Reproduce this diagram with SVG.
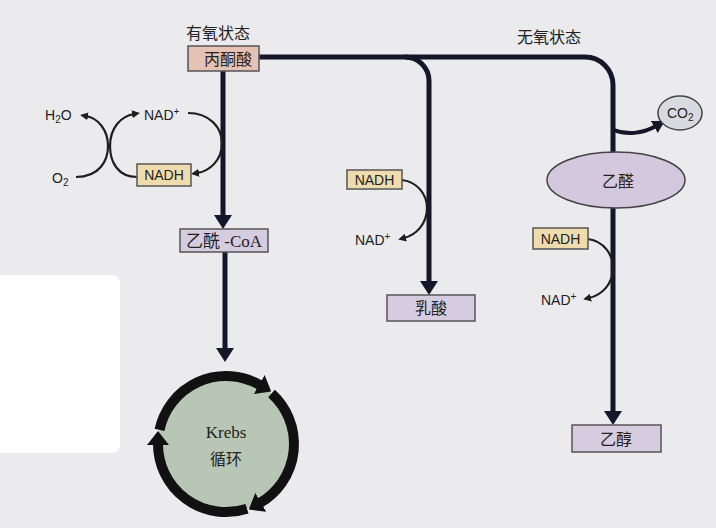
<svg xmlns="http://www.w3.org/2000/svg" width="716" height="528" viewBox="0 0 716 528">
<style>
.bg{fill:#ebebed}
.main{fill:none;stroke:#16162a;stroke-width:5}
.thin{fill:none;stroke:#1e1e1e;stroke-width:2.2}
.ring{fill:none;stroke:#111;stroke-width:10}
.box{stroke:#555;stroke-width:1.5}
.pyr{fill:#e6c2b4}
.lav{fill:#d6cce0}
.nadh{fill:#eedcae}
.cn{font-family:"Noto Sans CJK SC",sans-serif;font-size:16px;fill:#222;text-anchor:middle}
.sn{font-family:"Liberation Serif","Noto Sans CJK SC",serif;font-size:17px;fill:#222;text-anchor:middle}
.lb{font-family:"Liberation Sans",Arial,sans-serif;font-size:14px;fill:#222}
.mid{text-anchor:middle}
</style>
<defs>
<marker id="big" viewBox="0 0 14 18" markerWidth="14" markerHeight="18" markerUnits="userSpaceOnUse" refX="3" refY="9" orient="auto"><path d="M0,0 L14,9 L0,18 z" fill="#16162a"/></marker>
<marker id="med" viewBox="0 0 12 14" markerWidth="12" markerHeight="14" markerUnits="userSpaceOnUse" refX="2" refY="7" orient="auto"><path d="M0,0 L12,7 L0,14 z" fill="#16162a"/></marker>
<marker id="sm" viewBox="0 0 8 8" markerWidth="8" markerHeight="8" markerUnits="userSpaceOnUse" refX="2" refY="4" orient="auto"><path d="M0,0 L8,4 L0,8 z" fill="#1e1e1e"/></marker>
<marker id="ringhead" viewBox="0 0 14 22" markerWidth="14" markerHeight="22" markerUnits="userSpaceOnUse" refX="1" refY="11" orient="auto"><path d="M0,0 L14,11 L0,22 z" fill="#111"/></marker>
</defs>
<rect class="bg" x="0" y="0" width="716" height="528"/>
<rect x="-8" y="275" width="128" height="178" rx="8" fill="#ffffff"/>

<text class="cn" x="218" y="39">有氧状态</text>
<text class="cn" x="549" y="43">无氧状态</text>

<g id="connectors">
<path class="main" d="M223 71 V218" marker-end="url(#big)"/>
<path class="main" d="M225 252 V351" marker-end="url(#big)"/>
<path class="main" d="M259 57 H585 A28 28 0 0 1 613 85 V414" marker-end="url(#big)"/>
<path class="main" d="M405 57 A24 24 0 0 1 429 81 V284" marker-end="url(#big)"/>
<path fill="none" stroke="#16162a" stroke-width="4" d="M614 130 C626 135 642 134 656 126" marker-end="url(#med)"/>
<path class="thin" d="M76 177 C100 177 108 160 108 146 C108 130 98 118 86 116" marker-end="url(#sm)"/>
<path class="thin" d="M137 177 C118 177 110 162 110 146 C110 128 121 116 134 114" marker-end="url(#sm)"/>
<path class="thin" d="M188 113 C210 113 222 128 222 143 C222 160 210 171 197 173" marker-end="url(#sm)"/>
<path class="thin" d="M402 180 C418 182 427 195 427 208 C427 224 416 235 404 238" marker-end="url(#sm)"/>
<path class="thin" d="M588 239 C604 241 613 255 613 268 C613 284 602 295 589 298" marker-end="url(#sm)"/>
</g>

<g id="h2o"><text class="lb" x="45" y="120">H<tspan font-size="10" dy="3">2</tspan><tspan dy="-3">O</tspan></text></g>
<g id="o2"><text class="lb" x="52" y="183">O<tspan font-size="10" dy="3">2</tspan></text></g>
<g id="nadp1"><text class="lb" x="144" y="120">NAD<tspan font-size="10" dy="-5">+</tspan></text></g>
<g id="nadp2"><text class="lb" x="355" y="245">NAD<tspan font-size="10" dy="-5">+</tspan></text></g>
<g id="nadp3"><text class="lb" x="541" y="305">NAD<tspan font-size="10" dy="-5">+</tspan></text></g>

<g id="pyruvate"><rect class="box pyr" x="188" y="46" width="71" height="25"/><text class="cn" x="228" y="65" font-size="17">丙酮酸</text></g>
<g id="acetylcoa"><rect class="box lav" x="180" y="229" width="88" height="23"/><text class="sn" x="224" y="247">乙酰 -CoA</text></g>
<g id="nadh1"><rect class="box nadh" x="137" y="164" width="54" height="22"/><text class="lb mid" x="164" y="180">NADH</text></g>
<g id="nadh2"><rect class="box nadh" x="347" y="170" width="55" height="19"/><text class="lb mid" x="374.5" y="185">NADH</text></g>
<g id="nadh3"><rect class="box nadh" x="533" y="228" width="55" height="21"/><text class="lb mid" x="560.5" y="244">NADH</text></g>
<g id="lactate"><rect class="box lav" x="387" y="295" width="88" height="26"/><text class="cn" x="431" y="314" font-size="17">乳酸</text></g>
<g id="ethanol"><rect class="box lav" x="572" y="425" width="89" height="27"/><text class="cn" x="616" y="445" font-size="17">乙醇</text></g>
<g id="acetaldehyde"><ellipse cx="616" cy="180" rx="69" ry="28" fill="#d4c8de" stroke="#444" stroke-width="1.5"/><text class="cn" x="618" y="187" font-size="17">乙醛</text></g>
<g id="co2"><ellipse cx="680" cy="113" rx="22" ry="17" fill="#d8dadf" stroke="#444" stroke-width="1.5"/><text class="lb" x="667" y="118">CO<tspan font-size="10" dy="3">2</tspan></text></g>

<g id="krebs">
<circle cx="226" cy="444" r="68" fill="#b8c6b6"/>
<path class="ring" d="M159.5 429.9 A68 68 0 0 1 260 385.1" marker-end="url(#ringhead)"/>
<path class="ring" d="M271.5 393.5 A68 68 0 0 1 260 502.9" marker-end="url(#ringhead)"/>
<path class="ring" d="M247 508.7 A68 68 0 0 1 158 444" marker-end="url(#ringhead)"/>
<text class="sn" x="226" y="438">Krebs</text>
<text class="cn" x="226" y="465">循环</text>
</g>
</svg>
